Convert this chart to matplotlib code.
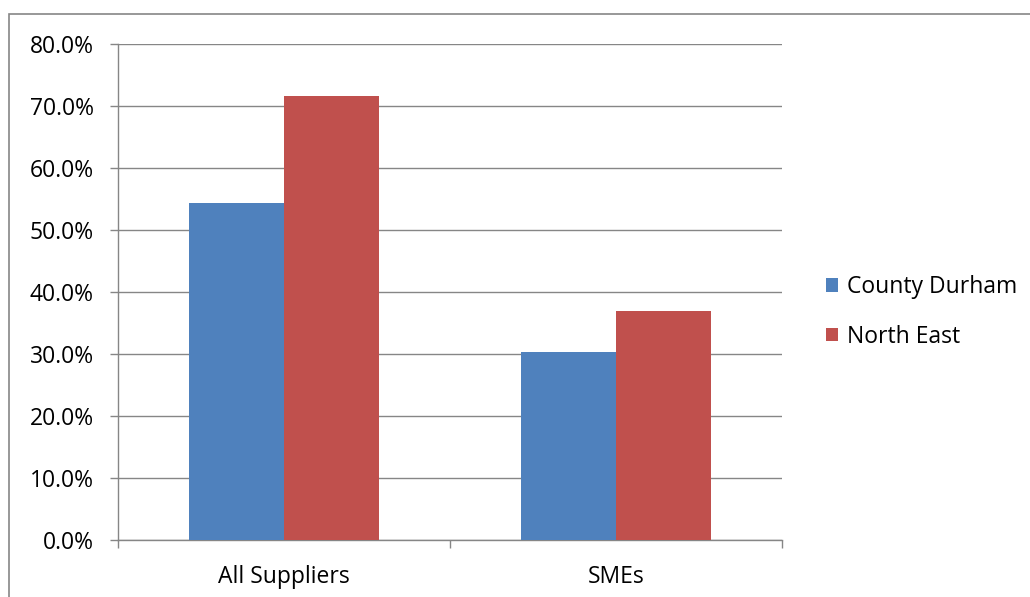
import matplotlib.pyplot as plt
import matplotlib.patches as mpatches
import numpy as np
from matplotlib.ticker import FuncFormatter, FixedLocator

plt.rcParams['font.family'] = ['Open Sans', 'DejaVu Sans']

# data
categories = ['All Suppliers', 'SMEs']
county_durham = [54.4, 30.3]
north_east = [71.6, 36.9]

fig = plt.figure(figsize=(10.30, 5.97), dpi=100)
ax = fig.add_axes([118 / 1030, 1 - 540 / 597, (782 - 118) / 1030, (540 - 44) / 597])

x = np.arange(len(categories))
w = 0.286
ax.bar(x - w / 2, county_durham, w, color='#4f81bd', label='County Durham', zorder=3)
ax.bar(x + w / 2, north_east, w, color='#c0504d', label='North East', zorder=3)

ax.set_xlim(-0.5, len(categories) - 0.5)
ax.set_ylim(0, 80)
ax.set_yticks(np.arange(0, 81, 10))
ax.yaxis.set_major_formatter(FuncFormatter(lambda v, p: f'{v:.1f}%'))
ax.grid(axis='y', color='#868686', linewidth=1, zorder=0)

ax.set_xticks(x)
ax.set_xticklabels(categories)
ax.xaxis.set_minor_locator(FixedLocator(np.arange(-0.5, len(categories), 1)))
ax.tick_params(axis='x', which='major', length=0, pad=18, labelsize=16.5)
ax.tick_params(axis='x', which='minor', length=5.8, color='#868686', width=1)
ax.tick_params(axis='y', length=5.8, color='#868686', width=1, labelsize=16.5, pad=11.5)

for s in ['top', 'right']:
    ax.spines[s].set_visible(False)
for s in ['left', 'bottom']:
    ax.spines[s].set_color('#868686')
    ax.spines[s].set_linewidth(1)

ax.legend(loc='center left', bbox_to_anchor=(805 / 1030, 1 - 312 / 597),
          bbox_transform=fig.transFigure, frameon=False, fontsize=16.5,
          handlelength=0.55, handleheight=0.55, handletextpad=0.4, labelspacing=1.1)

# outer border of chart area
fig.patches.append(mpatches.Rectangle((9 / 1030, -0.01), 1.1, 1 - 14 / 597 + 0.01,
                                      transform=fig.transFigure, fill=False,
                                      edgecolor='#868686', linewidth=1.2))

fig.savefig('out.png', dpi=100)
